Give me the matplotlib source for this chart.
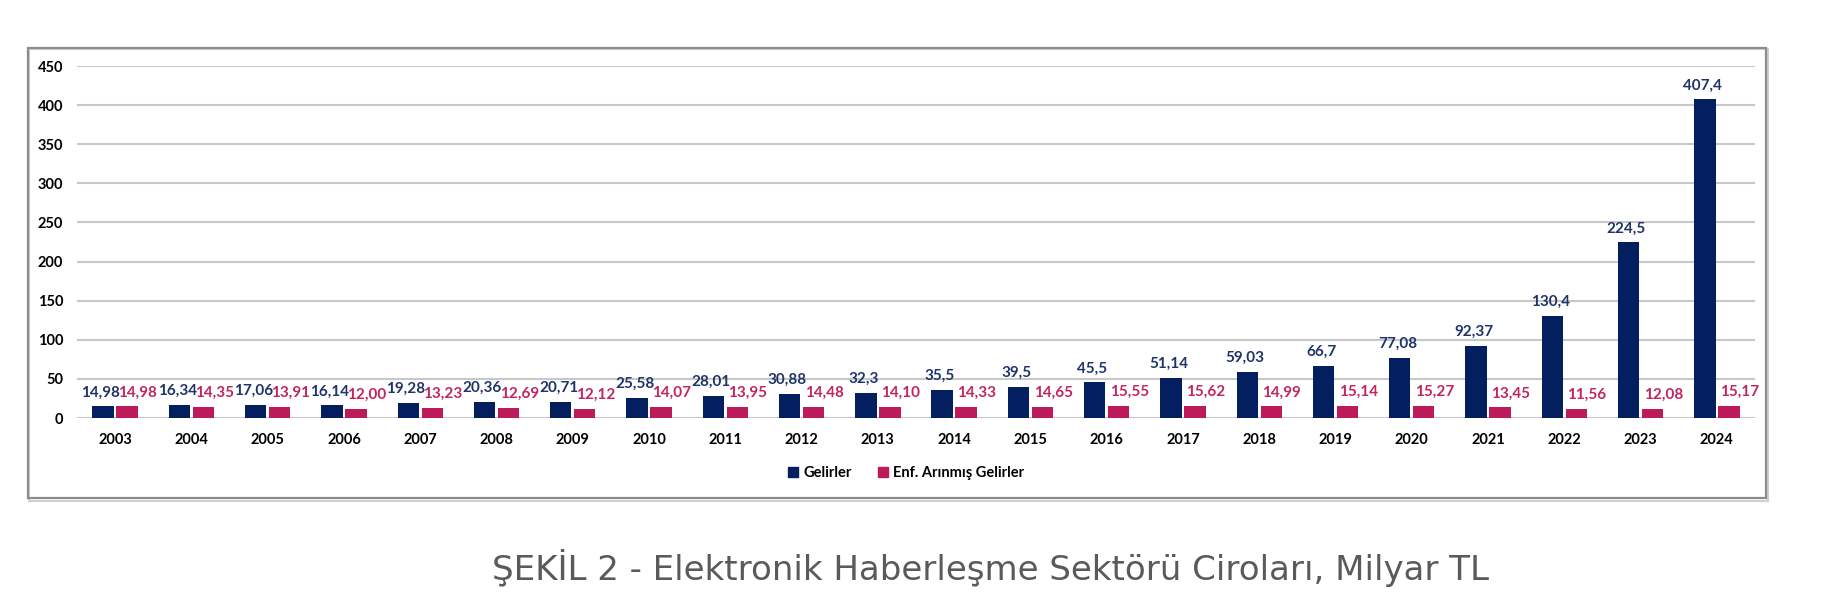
import matplotlib
matplotlib.use("Agg")
import matplotlib.pyplot as plt
import numpy as np
from matplotlib.patches import Rectangle

years = ["2003", "2004", "2005", "2006", "2007", "2008", "2009", "2010", "2011", "2012", "2013",
         "2014", "2015", "2016", "2017", "2018", "2019", "2020", "2021", "2022", "2023", "2024"]
gelirler = [14.98, 16.34, 17.06, 16.14, 19.28, 20.36, 20.71, 25.58, 28.01, 30.88, 32.3,
            35.5, 39.5, 45.5, 51.14, 59.03, 66.7, 77.08, 92.37, 130.4, 224.5, 407.4]
gelirler_labels = ["14,98", "16,34", "17,06", "16,14", "19,28", "20,36", "20,71", "25,58", "28,01",
                   "30,88", "32,3", "35,5", "39,5", "45,5", "51,14", "59,03", "66,7", "77,08",
                   "92,37", "130,4", "224,5", "407,4"]
enf = [14.98, 14.35, 13.91, 12.00, 13.23, 12.69, 12.12, 14.07, 13.95, 14.48, 14.10,
       14.33, 14.65, 15.55, 15.62, 14.99, 15.14, 15.27, 13.45, 11.56, 12.08, 15.17]
enf_labels = ["14,98", "14,35", "13,91", "12,00", "13,23", "12,69", "12,12", "14,07", "13,95",
              "14,48", "14,10", "14,33", "14,65", "15,55", "15,62", "14,99", "15,14", "15,27",
              "13,45", "11,56", "12,08", "15,17"]
yticks = [0, 50, 100, 150, 200, 250, 300, 350, 400, 450]

NAVY = "#031f5f"
PINK = "#bd1a5c"
NAVY_TXT = "#1f3468"
PINK_TXT = "#c2255f"
FONT = ["Lato", "DejaVu Sans"]

fig = plt.figure(figsize=(18.3, 6.1), dpi=100)
fig.patch.set_facecolor("white")

# chart frame with slight shadow
fig.patches.append(Rectangle((29 / 1830, 1 - 501 / 610), 1739 / 1830, 452 / 610,
                             transform=fig.transFigure, fill=False, edgecolor="#d0d0d0",
                             linewidth=1.5, zorder=0))
fig.patches.append(Rectangle((28 / 1830, 1 - 498 / 610), 1738 / 1830, 450 / 610,
                             transform=fig.transFigure, fill=False, edgecolor="#8c8c8c",
                             linewidth=1.6, zorder=1))

ax = fig.add_axes([77 / 1830, 1 - 418 / 610, (1755 - 77) / 1830, (418 - 66) / 610])
x = np.arange(len(years))
w = 0.28
off = 0.157
ax.bar(x - off, gelirler, width=w, color=NAVY, zorder=3, label="Gelirler")
ax.bar(x + off, enf, width=w, color=PINK, zorder=3, label="Enf. Arınmış Gelirler")

for xi, v, s in zip(x, gelirler, gelirler_labels):
    ax.annotate(s, (xi - off - 0.03, v), xytext=(0, 5), textcoords="offset points",
                ha="center", va="bottom", fontsize=11, fontweight="bold",
                color=NAVY_TXT, family=FONT, zorder=4)
for xi, v, s in zip(x, enf, enf_labels):
    ax.annotate(s, (xi + off + 0.14, v), xytext=(0, 5), textcoords="offset points",
                ha="center", va="bottom", fontsize=11, fontweight="bold",
                color=PINK_TXT, family=FONT, zorder=4)

ax.set_xlim(-0.5, len(years) - 0.5)
ax.set_ylim(0, 450)
ax.set_yticks(yticks)
ax.set_yticklabels([str(t) for t in yticks], fontsize=10.5, fontweight="bold", family=FONT)
ax.set_xticks(x)
ax.set_xticklabels(years, fontsize=10.5, fontweight="bold", family=FONT)
ax.tick_params(axis="both", length=0)
ax.tick_params(axis="x", pad=11)
ax.tick_params(axis="y", pad=10)
ax.grid(axis="y", color="#c8c8c8", linewidth=1.5, zorder=0)
ax.set_axisbelow(True)
for sp in ax.spines.values():
    sp.set_visible(False)

handles = [Rectangle((0, 0), 1, 1, color=NAVY), Rectangle((0, 0), 1, 1, color=PINK)]
fig.legend(handles, ["Gelirler", "Enf. Arınmış Gelirler"], loc="center",
           bbox_to_anchor=(906 / 1830, 1 - 473 / 610), ncol=2, frameon=False,
           prop={"family": FONT, "weight": "bold", "size": 10.5},
           handlelength=0.7, handleheight=0.7, handletextpad=0.35, columnspacing=1.8)

fig.text(990 / 1830, 1 - 568 / 610, "ŞEKİL 2 - Elektronik Haberleşme Sektörü Ciroları, Milyar TL",
         ha="center", va="center", fontsize=24.5, color="#5a5a5a", family=["DejaVu Sans"])

fig.savefig("out.png", dpi=100)
